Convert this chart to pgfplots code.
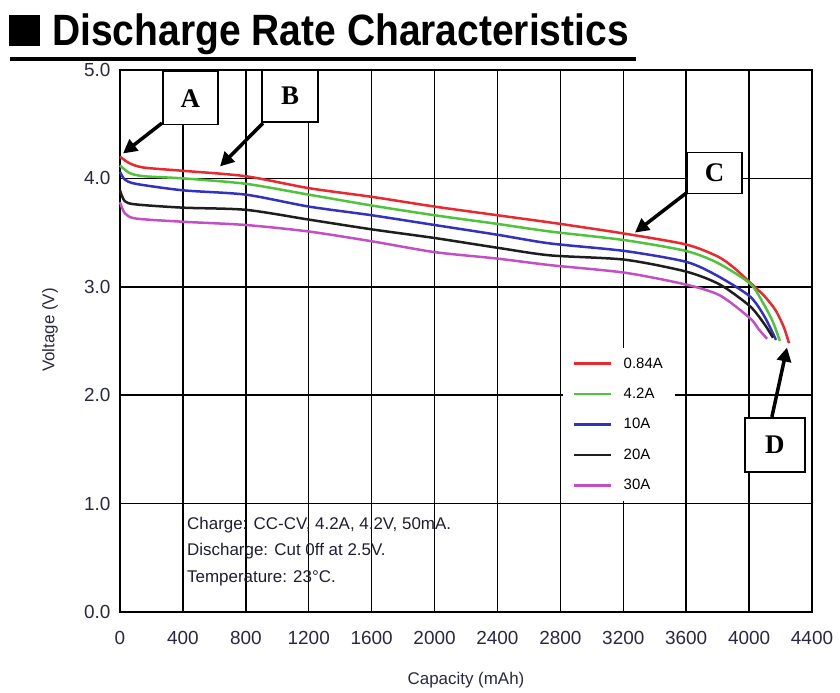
\documentclass[border=0pt]{standalone}
\usepackage{pgfplots}
\pgfplotsset{compat=1.18}
\usepackage{fontspec}
\setmainfont{Liberation Sans}
\newfontfamily\seriffont{Liberation Serif}
\usetikzlibrary{arrows.meta}
\definecolor{cred}{RGB}{235,40,45}
\definecolor{cgreen}{RGB}{80,195,60}
\definecolor{cblue}{RGB}{50,50,190}
\definecolor{cblack}{RGB}{30,30,30}
\definecolor{cmag}{RGB}{195,80,195}
\definecolor{tickc}{RGB}{40,40,65}
\definecolor{notec}{RGB}{30,30,50}
\begin{document}
\begin{tikzpicture}[x=1bp,y=1bp]
\path[use as bounding box] (0,0) rectangle (840,693);
% title
\fill (9,647) rectangle (40,678);
\node[anchor=base west, inner sep=0pt, font=\bfseries\fontsize{44}{44}\selectfont] at (52,647) {\scalebox{0.89}[1]{Discharge Rate Characteristics}};
\draw[line width=3.5bp] (10,634) -- (636,634);
\node[font=\fontsize{17}{17}\selectfont, text=tickc] at (466,13) {Capacity (mAh)};
\node[rotate=90, font=\fontsize{17}{17}\selectfont, text=tickc] at (50,363) {Voltage (V)};
\begin{axis}[
  at={(120bp,81bp)}, anchor=south west,
  width=692bp, height=542bp, scale only axis,
  xmin=0, xmax=4400, ymin=0, ymax=5,
  xtick={0,400,...,4400}, ytick={0,1,...,5},
  grid=major, grid style={black, line width=1.5bp},
  axis line style={black, line width=2bp},
  major tick length=0pt,
  clip=false,
  /pgf/number format/assume math mode=true,
  x tick label style={font=\fontsize{19}{19}\selectfont, text=tickc, yshift=-16bp, /pgf/number format/.cd, 1000 sep={}, /tikz/.cd},
  y tick label style={font=\fontsize{19}{19}\selectfont, text=tickc, xshift=-6bp, /pgf/number format/.cd, fixed, fixed zerofill, precision=1, /tikz/.cd},
  legend style={at={(axis cs:2817,2.44)}, anchor=north west, draw=none, fill=white, font=\fontsize{15}{15}\selectfont, row sep=14.5bp, inner xsep=10bp, inner ysep=8bp},
  legend cell align=left,
  legend image code/.code={\draw[#1, line width=2.5bp] (0bp,0bp) -- (37bp,0bp); \path (46bp,0bp);},
]
\addplot[cred, line width=2.5bp, smooth, tension=0.45] coordinates {
(0,4.20) (60,4.14) (150,4.10) (400,4.07) (800,4.02) (1200,3.91) (1600,3.83) (2000,3.74) (2400,3.66) (2800,3.58) (3210,3.49) (3600,3.39) (3800,3.28) (3900,3.18) (4006,3.04) (4100,2.91) (4170,2.78) (4220,2.63) (4254,2.48)};
\addplot[cgreen, line width=2.5bp, smooth, tension=0.45] coordinates {
(0,4.12) (60,4.05) (150,4.02) (400,4.00) (800,3.95) (1200,3.85) (1600,3.75) (2000,3.66) (2400,3.58) (2734,3.51) (3210,3.43) (3600,3.33) (3800,3.22) (4006,3.03) (4089,2.85) (4150,2.68) (4196,2.50)};
\addplot[cblue, line width=2.5bp, smooth, tension=0.45] coordinates {
(0,4.06) (30,3.99) (100,3.95) (400,3.89) (800,3.85) (1200,3.74) (1600,3.66) (2000,3.57) (2400,3.48) (2734,3.40) (3210,3.33) (3600,3.23) (3800,3.10) (4006,2.91) (4100,2.72) (4171,2.51)};
\addplot[cblack, line width=2.5bp, smooth, tension=0.45] coordinates {
(0,3.89) (30,3.79) (100,3.76) (400,3.73) (800,3.71) (1200,3.62) (1600,3.53) (2000,3.45) (2400,3.36) (2734,3.29) (3210,3.25) (3600,3.14) (3815,3.02) (4006,2.82) (4100,2.65) (4152,2.53)};
\addplot[cmag, line width=2.5bp, smooth, tension=0.45] coordinates {
(0,3.78) (30,3.68) (100,3.63) (400,3.60) (800,3.57) (1200,3.51) (1600,3.42) (2000,3.32) (2400,3.26) (2734,3.20) (3210,3.13) (3600,3.02) (3815,2.92) (4006,2.71) (4060,2.61) (4114,2.52)};
\legend{0.84A,4.2A,10A,20A,30A}
% annotation text
\node[anchor=north west, align=left, inner sep=0pt, font=\fontsize{17}{27}\selectfont, text=notec] at (axis cs:426,0.88) {Charge: CC-CV, 4.2A, 4.2V, 50mA.\\Discharge: Cut 0ff at 2.5V.\\Temperature: 23°C.};
% labelled boxes and arrows
\tikzset{lbox/.style={draw=black, line width=1.5bp, fill=white, inner sep=0pt, font=\seriffont\bfseries\fontsize{27}{27}\selectfont}}
\node[lbox, minimum width=55bp, minimum height=53bp] at (axis cs:448,4.74) {A};
\node[lbox, minimum width=56bp, minimum height=52bp] at (axis cs:1081,4.76) {B};
\node[lbox, minimum width=55bp, minimum height=41bp] at (axis cs:3780,4.05) {C};
\node[lbox, minimum width=60bp, minimum height=54bp] at (axis cs:4164,1.54) {D};
\draw[line width=3.5bp, -{Triangle[length=14bp,width=14bp]}] (axis cs:267,4.51) -- (axis cs:19,4.23);
\draw[line width=3.5bp, -{Triangle[length=14bp,width=14bp]}] (axis cs:909,4.51) -- (axis cs:636,4.11);
\draw[line width=3.5bp, -{Triangle[length=14bp,width=14bp]}] (axis cs:3605,3.87) -- (axis cs:3274,3.50);
\draw[line width=3.5bp, -{Triangle[length=14bp,width=14bp]}] (axis cs:4145,1.80) -- (axis cs:4241,2.44);
\end{axis}
\end{tikzpicture}
\end{document}
